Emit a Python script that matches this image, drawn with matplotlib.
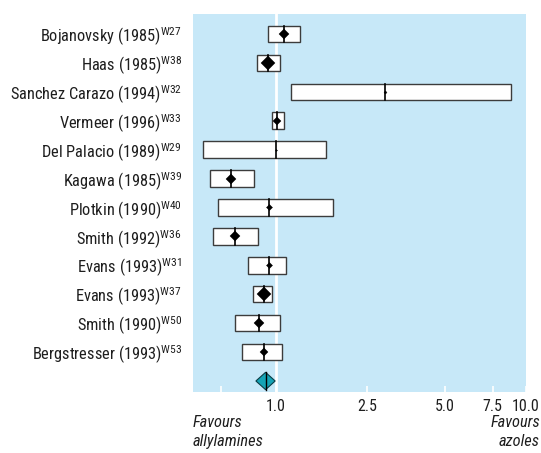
import numpy as np
import matplotlib.pyplot as plt
from matplotlib.patches import Rectangle, Polygon

plt.rcParams['font.family'] = ['Roboto Condensed', 'Liberation Sans', 'DejaVu Sans']
plt.rcParams['mathtext.fontset'] = 'custom'
plt.rcParams['mathtext.rm'] = 'Roboto Condensed'
plt.rcParams['mathtext.it'] = 'Roboto Condensed:italic'

# studies, top to bottom
studies = ['Bojanovsky (1985)', 'Haas (1985)', 'Sanchez Carazo (1994)', 'Vermeer (1996)',
           'Del Palacio (1989)', 'Kagawa (1985)', 'Plotkin (1990)', 'Smith (1992)',
           'Evans (1993)', 'Evans (1993)', 'Smith (1990)', 'Bergstresser (1993)']
refs = ['W27', 'W38', 'W32', 'W33', 'W29', 'W39', 'W40', 'W36', 'W31', 'W37', 'W50', 'W53']

# odds ratio and 95% CI
odds = [1.09, 0.91, 2.95, 1.01, 1.00, 0.57, 0.92, 0.60, 0.92, 0.86, 0.81, 0.86]
ci_low = [0.90, 0.79, 1.17, 0.95, 0.40, 0.435, 0.48, 0.455, 0.70, 0.75, 0.60, 0.65]
ci_high = [1.28, 1.04, 8.8, 1.09, 1.65, 0.76, 1.77, 0.80, 1.11, 0.95, 1.04, 1.06]
weights = [9, 14, 3, 8, 2, 9, 6, 9, 6, 13, 9, 8]   # marker width, px

pooled_or = 0.878
pooled_low = 0.777
pooled_high = 0.991

tick_vals = [0.5, 1, 2.5, 5, 7.5, 10]
tick_labels = ['', '1.0', '2.5', '5.0', '7.5', '10.0']

# the printed axis is not a clean log scale, so map log10 -> axis fraction
# piecewise through where the printed ticks sit
tick_frac = [0.084, 0.249, 0.522, 0.757, 0.900, 1.0]
knot_log = np.concatenate([[-3], np.log10(tick_vals), [3]])
left_slope = (tick_frac[1] - tick_frac[0]) / np.log10(2)
right_slope = (tick_frac[5] - tick_frac[4]) / (1 - np.log10(7.5))
knot_frac = np.concatenate([[tick_frac[0] + (-3 - np.log10(0.5)) * left_slope], tick_frac,
                            [1 + 2 * right_slope]])


def forward(x):
    x = np.clip(np.asarray(x, dtype=float), 1e-6, None)
    return np.interp(np.log10(x), knot_log, knot_frac)


def inverse(f):
    return 10 ** np.interp(np.asarray(f, dtype=float), knot_frac, knot_log)


panel = '#c7e8f8'
teal = '#15a3b5'
text_col = '#1e1e1e'

fig = plt.figure(figsize=(5.41, 4.53), dpi=100)
ax = fig.add_axes([0.3567, 0.1347, 0.6155, 0.8344])
ax.set_facecolor(panel)
ax.set_xscale('function', functions=(forward, inverse))
ax.set_xlim(inverse(0), 10)

n = len(studies)
ax.set_ylim(n + 0.38, -0.69)

ax.axvline(1.0, color='white', lw=2, zorder=1)

box_h = 0.57
for i in range(n):
    ax.add_patch(Rectangle((ci_low[i], i - box_h / 2), ci_high[i] - ci_low[i], box_h,
                           facecolor='white', edgecolor='#3c3c3c', lw=1.0, zorder=2))
    ax.plot([odds[i], odds[i]], [i - box_h / 2, i + box_h / 2], color='black', lw=1.2, zorder=3)
    ms = weights[i] / 1.964
    ax.plot(odds[i], i, marker='D', ms=ms, color='black', mec='black', mew=0.3, zorder=4)

# pooled estimate
d_h = 0.30
ax.add_patch(Polygon([(pooled_low, n), (pooled_or, n - d_h), (pooled_high, n), (pooled_or, n + d_h)],
                     closed=True, facecolor=teal, edgecolor='#0c3c44', lw=0.8, zorder=3))
ax.plot([pooled_or, pooled_or], [n - d_h, n + d_h], color='black', lw=1.0, zorder=4)

labels = [f'{s}$^{{\\mathrm{{{r}}}}}$' for s, r in zip(studies, refs)]
ax.set_yticks(range(n))
ax.set_yticklabels(labels, fontsize=11.8, color=text_col)
ax.tick_params(axis='y', length=0, pad=8)

ax.set_xticks(tick_vals)
ax.set_xticklabels(tick_labels, fontsize=11.5, color=text_col)
ax.xaxis.set_minor_locator(plt.NullLocator())
ax.tick_params(axis='x', direction='in', color='white', length=4, width=1.2, pad=5)

for sp in ax.spines.values():
    sp.set_visible(False)

fig.text(193 / 541, 1 - 415 / 453, 'Favours\nallylamines', ha='left', va='top',
         fontsize=11.8, style='italic', color=text_col, linespacing=1.3)
fig.text(540 / 541, 1 - 415 / 453, 'Favours\nazoles', ha='right', va='top',
         fontsize=11.8, style='italic', color=text_col, linespacing=1.3, multialignment='right')

fig.savefig('out.png', dpi=100)
